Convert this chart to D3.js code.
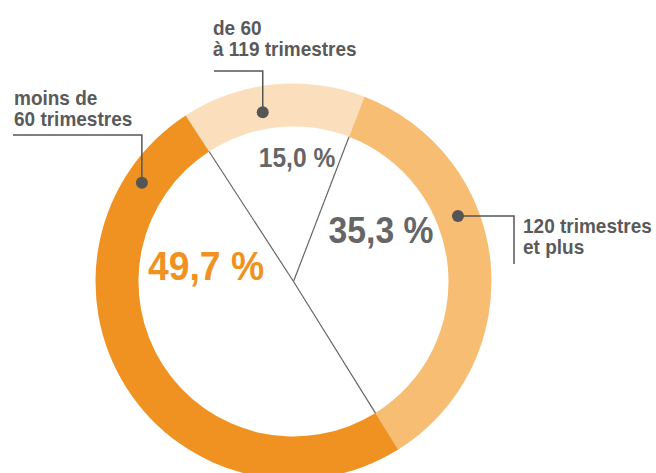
<!DOCTYPE html>
<html lang="fr">
<head>
<meta charset="utf-8">
<script src="https://cdn.jsdelivr.net/npm/d3@7"></script>
<style>
  html, body { margin: 0; padding: 0; background: #fff; }
  svg { display: block; }
  text { font-family: "Liberation Sans", Arial, sans-serif; font-weight: bold; }
</style>
</head>
<body>
<svg id="chart" width="656" height="473"></svg>
<script>
// Répartition selon la durée d'assurance
const categories = ["de 60 à 119 trimestres", "120 trimestres et plus", "moins de 60 trimestres"];
const values = [15.0, 35.3, 49.7];
const valueLabels = ["15,0 %", "35,3 %", "49,7 %"];
const colors = ["#FBDFBD", "#F7BD73", "#F09222"];
const valueColors = ["#666666", "#666666", "#F09222"];
const categoryLines = [
  ["de 60", "à 119 trimestres"],
  ["120 trimestres", "et plus"],
  ["moins de", "60 trimestres"]
];

const W = 656, H = 473;
const cx = 293.5, cy = 281.5;
const rOuter = 198, rInner = 155;
const startAngle = -33 * Math.PI / 180;

const svg = d3.select("#chart");
const g = svg.append("g").attr("transform", `translate(${cx},${cy})`);

const pie = d3.pie().sort(null).value(d => d)
  .startAngle(startAngle).endAngle(startAngle + 2 * Math.PI);
const arcs = pie(values);

const arc = d3.arc().innerRadius(rInner).outerRadius(rOuter);

g.selectAll("path.slice")
  .data(arcs)
  .join("path")
  .attr("class", "slice")
  .attr("d", arc)
  .attr("fill", (d, i) => colors[i]);

// Rayons séparant les parts dans le disque blanc
const pt = (a, r) => [Math.sin(a) * r, -Math.cos(a) * r];
g.selectAll("line.sep")
  .data(arcs)
  .join("line")
  .attr("class", "sep")
  .attr("x1", 0).attr("y1", 0)
  .attr("x2", d => pt(d.startAngle, rInner)[0])
  .attr("y2", d => pt(d.startAngle, rInner)[1])
  .attr("stroke", "#666")
  .attr("stroke-width", 1.2);

// Texte en gras légèrement condensé
function condensedText(sel, x, y, sx) {
  return sel.append("g")
    .attr("transform", `translate(${x},${y}) scale(${sx},1)`)
    .append("text");
}

// Pourcentages
const valuePos = [
  { x: 297, y: 167, size: 27 },
  { x: 381, y: 243, size: 37 },
  { x: 206, y: 280, size: 41 }
];
valueLabels.forEach((s, i) => {
  condensedText(svg, valuePos[i].x, valuePos[i].y, 0.91)
    .attr("text-anchor", "middle")
    .attr("font-size", valuePos[i].size)
    .attr("fill", valueColors[i])
    .text(s);
});

// Étiquettes des catégories avec leurs traits de rappel
const callouts = [
  { angle: -10.3, r: 172, path: p => [p, [p[0], 71], [214, 71]], tx: 213, ty: 35 },
  { angle: 68.3, r: 177, path: p => [p, [514, p[1]], [514, 264]], tx: 523, ty: 233 },
  { angle: -56.9, r: 181, path: p => [p, [p[0], 135], [13, 135]], tx: 14, ty: 105 }
];

const line = d3.line();
callouts.forEach((c, i) => {
  const p = pt(c.angle * Math.PI / 180, c.r);
  const ap = [cx + p[0], cy + p[1]];
  svg.append("path")
    .attr("d", line(c.path(ap)))
    .attr("fill", "none")
    .attr("stroke", "#555")
    .attr("stroke-width", 1.5);
  svg.append("circle")
    .attr("cx", ap[0]).attr("cy", ap[1])
    .attr("r", 6)
    .attr("fill", "#555");
  const t = condensedText(svg, c.tx, c.ty, 0.95)
    .attr("font-size", 20)
    .attr("fill", "#5a5a5a");
  categoryLines[i].forEach((s, k) => {
    t.append("tspan").attr("x", 0).attr("dy", k === 0 ? 0 : 21).text(s);
  });
});
</script>
</body>
</html>
